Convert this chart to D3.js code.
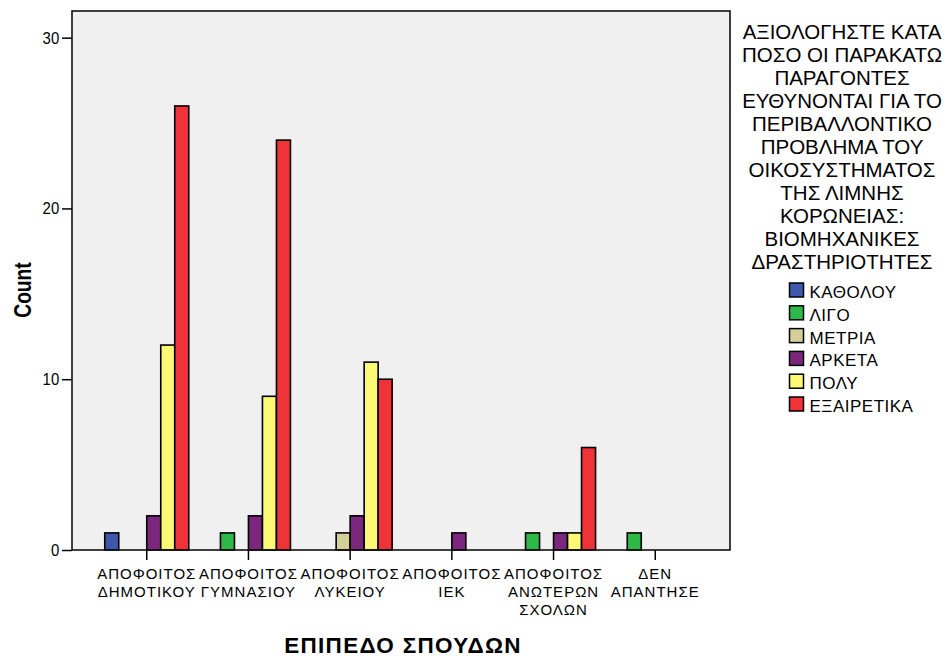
<!DOCTYPE html>
<html>
<head>
<meta charset="utf-8">
<script src="https://cdn.jsdelivr.net/npm/d3@7"></script>
<style>
html,body{margin:0;padding:0;background:#fff;}
svg{display:block;font-family:"Liberation Sans",Arial,sans-serif;}
</style>
</head>
<body>
<svg id="chart" width="952" height="659"></svg>
<script>
const categories = [
  ["ΑΠΟΦΟΙΤΟΣ","ΔΗΜΟΤΙΚΟΥ"],
  ["ΑΠΟΦΟΙΤΟΣ","ΓΥΜΝΑΣΙΟΥ"],
  ["ΑΠΟΦΟΙΤΟΣ","ΛΥΚΕΙΟΥ"],
  ["ΑΠΟΦΟΙΤΟΣ","ΙΕΚ"],
  ["ΑΠΟΦΟΙΤΟΣ","ΑΝΩΤΕΡΩΝ","ΣΧΟΛΩΝ"],
  ["ΔΕΝ","ΑΠΑΝΤΗΣΕ"]
];
const seriesNames = ["ΚΑΘΟΛΟΥ","ΛΙΓΟ","ΜΕΤΡΙΑ","ΑΡΚΕΤΑ","ΠΟΛΥ","ΕΞΑΙΡΕΤΙΚΑ"];
const seriesColors = ["#3E58AC","#2EB848","#D4CF98","#7B277D","#FBF873","#EF3338"];
// values per series, in category order
const katholou   = [1,0,0,0,0,0];
const ligo       = [0,1,0,0,1,1];
const metria     = [0,0,1,0,0,0];
const arketa     = [2,2,2,1,1,0];
const poly       = [12,9,11,0,1,0];
const exairetika = [26,24,10,0,6,0];
const seriesValues = [katholou, ligo, metria, arketa, poly, exairetika];
const yTicks = [0,10,20,30];
const legendTitle = ["ΑΞΙΟΛΟΓΗΣΤΕ ΚΑΤΑ","ΠΟΣΟ ΟΙ ΠΑΡΑΚΑΤΩ","ΠΑΡΑΓΟΝΤΕΣ","ΕΥΘΥΝΟΝΤΑΙ ΓΙΑ ΤΟ","ΠΕΡΙΒΑΛΛΟΝΤΙΚΟ","ΠΡΟΒΛΗΜΑ ΤΟΥ","ΟΙΚΟΣΥΣΤΗΜΑΤΟΣ","ΤΗΣ ΛΙΜΝΗΣ","ΚΟΡΩΝΕΙΑΣ:","ΒΙΟΜΗΧΑΝΙΚΕΣ","ΔΡΑΣΤΗΡΙΟΤΗΤΕΣ"];
const xTitle = "ΕΠΙΠΕΔΟ ΣΠΟΥΔΩΝ";
const yTitle = "Count";

const svg = d3.select("#chart");
const L = 72, R = 730, T = 11, B = 550;

const x0 = d3.scaleBand().domain(d3.range(categories.length)).range([L, R]).paddingInner(0.174).paddingOuter(0.322);
const x1 = d3.scaleBand().domain(d3.range(seriesNames.length)).range([0, x0.bandwidth()]);
const y = d3.scaleLinear().domain([0, 31.56]).range([B, T]);

svg.append("rect").attr("x", L).attr("y", T).attr("width", R - L).attr("height", B - T)
  .attr("fill", "#F0F0F0");

const rows = [];
seriesValues.forEach((vals, s) => vals.forEach((v, c) => { if (v > 0) rows.push({c, s, v}); }));
svg.append("g").selectAll("rect").data(rows).join("rect")
  .attr("x", d => x0(d.c) + x1(d.s))
  .attr("y", d => y(d.v))
  .attr("width", x1.bandwidth())
  .attr("height", d => B - y(d.v))
  .attr("fill", d => seriesColors[d.s])
  .attr("stroke", "#000").attr("stroke-width", 1.6);

svg.append("rect").attr("x", L).attr("y", T).attr("width", R - L).attr("height", B - T)
  .attr("fill", "none").attr("stroke", "#111").attr("stroke-width", 1.6);

// y axis
const yAxis = d3.axisLeft(y).tickValues(yTicks).tickSize(10).tickPadding(2);
const gy = svg.append("g").attr("transform", `translate(${L},0)`).call(yAxis);
gy.select(".domain").remove();
gy.selectAll(".tick line").attr("stroke", "#000").attr("stroke-width", 1.5);
gy.selectAll(".tick text").attr("font-size", 17).attr("fill", "#000")
  .attr("font-family", "Liberation Sans, Arial, sans-serif")
  .attr("transform", "scale(0.88,1)").attr("x", -14.5);

// x axis
const xAxis = d3.axisBottom(x0).tickSize(10).tickFormat("");
const gx = svg.append("g").attr("transform", `translate(0,${B})`).call(xAxis);
gx.select(".domain").remove();
gx.selectAll(".tick line").attr("stroke", "#000").attr("stroke-width", 1.5);
gx.selectAll(".tick").each(function(d) {
  const t = d3.select(this).append("text").attr("fill", "#000").attr("font-size", 15)
    .attr("letter-spacing", 1).attr("text-anchor", "middle")
    .attr("font-family", "Liberation Sans, Arial, sans-serif");
  categories[d].forEach((line, i) => {
    t.append("tspan").attr("x", 0).attr("y", 29 + i * 18).text(line);
  });
});

svg.append("text").attr("transform", `translate(31,290) rotate(-90) scale(0.8,1)`)
  .attr("text-anchor", "middle").attr("font-size", 24).attr("font-weight", "bold").text(yTitle);
svg.append("text").attr("x", (L + R) / 2 + 2).attr("y", 653)
  .attr("text-anchor", "middle").attr("font-size", 22.5).attr("letter-spacing", 1.3)
  .attr("font-weight", "bold").text(xTitle);

// legend
const lt = svg.append("text").attr("text-anchor", "middle").attr("font-size", 20.5);
legendTitle.forEach((line, i) => lt.append("tspan").attr("x", 842).attr("y", 38.5 + i * 23).text(line));

const lg = svg.append("g").selectAll("g").data(seriesNames).join("g")
  .attr("transform", (d, i) => `translate(789.5,${283 + i * 22.8})`);
lg.append("rect").attr("width", 14).attr("height", 14)
  .attr("fill", (d, i) => seriesColors[i]).attr("stroke", "#000").attr("stroke-width", 1.5);
lg.append("text").attr("x", 20).attr("y", 15).attr("font-size", 17).attr("letter-spacing", 0.5).text(d => d);
</script>
</body>
</html>
